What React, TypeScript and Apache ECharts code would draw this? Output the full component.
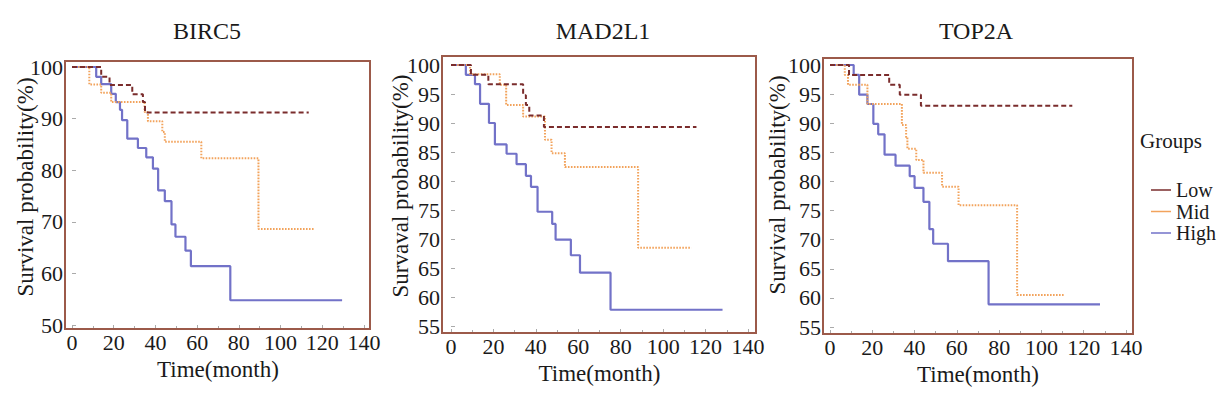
import React, { useEffect, useRef } from "react";
import * as echarts from "echarts";

const panelTitles = ["BIRC5", "MAD2L1", "TOP2A"];
const yAxisNames = ["Survival probability(%)", "Survaval probability(%)", "Survival probability(%)"];
const xAxisName = "Time(month)";
const groupNames = ["Low", "Mid", "High"];
const yMins = [50, 55, 55];
const yIntervals = [10, 5, 5];

// BIRC5
const birc5LowT = [0, 14, 18, 28.9, 34, 35, 113.5];
const birc5LowS = [100, 98.1, 96.5, 94.7, 93.2, 91.2, 91.2];
const birc5MidT = [0, 8.3, 14, 18.8, 34.8, 36.4, 43.3, 44.5, 62, 89.4, 116];
const birc5MidS = [100, 96.6, 95, 93.2, 91.3, 89.5, 87.4, 85.5, 82.3, 68.6, 68.6];
const birc5HighT = [0, 11.6, 14, 18.8, 21, 23, 24, 26.5, 31.6, 35.6, 38.8, 41.3, 44.5, 47.7, 49.6, 54.4, 57, 75.9, 129.5];
const birc5HighS = [100, 98.1, 96.7, 94.8, 93.2, 91.7, 89.7, 86.1, 84.3, 82.5, 80.3, 76.1, 74.0, 69.5, 67.1, 64.4, 61.4, 54.8, 54.8];

// MAD2L1
const mad2l1LowT = [0, 9.4, 17.6, 34, 35.3, 36.9, 43.8, 115.7];
const mad2l1LowS = [100, 98.3, 96.7, 94.8, 93.1, 91.3, 89.3, 89.3];
const mad2l1MidT = [0, 9, 23, 26, 34, 44.3, 47.4, 53.7, 88.2, 113.3];
const mad2l1MidS = [100, 98.4, 96.6, 93.1, 91.1, 87.1, 84.8, 82.4, 68.5, 68.5];
const mad2l1HighT = [0, 7, 11.3, 13.7, 17.9, 20.7, 26.2, 30.9, 35.3, 37.7, 40.8, 47.7, 49.3, 56.5, 60.8, 75.2, 128];
const mad2l1HighS = [100, 98.3, 96.7, 93.3, 90.0, 86.3, 84.7, 82.9, 80.9, 79.0, 74.7, 72.6, 69.9, 67.2, 64.2, 57.8, 57.8];

// TOP2A
const top2aLowT = [0, 9, 28, 33, 43, 114.6];
const top2aLowS = [100, 98.3, 96.6, 94.9, 93.0, 93.0];
const top2aMidT = [0, 7, 8.5, 17.7, 34, 36, 36.6, 40.8, 44.2, 53, 60.8, 88.5, 110.8];
const top2aMidS = [100, 98.3, 96.6, 93.3, 89.7, 87.6, 85.6, 83.7, 81.5, 79.1, 75.9, 60.5, 60.5];
const top2aHighT = [0, 11.2, 13.8, 17.7, 20.5, 22.8, 25.8, 31, 37.7, 40, 44.2, 47, 48.8, 55.8, 75, 127.7];
const top2aHighS = [100, 98.3, 94.9, 93.3, 89.9, 88.1, 84.6, 82.7, 80.9, 78.9, 76.5, 71.8, 69.3, 66.3, 58.9, 58.9];

const panelData = [
  [[birc5LowT, birc5LowS], [birc5MidT, birc5MidS], [birc5HighT, birc5HighS]],
  [[mad2l1LowT, mad2l1LowS], [mad2l1MidT, mad2l1MidS], [mad2l1HighT, mad2l1HighS]],
  [[top2aLowT, top2aLowS], [top2aMidT, top2aMidS], [top2aHighT, top2aHighS]],
];

const FONT = "'Liberation Serif', 'Times New Roman', serif";
const TXT = "#1a1a1a";
const FRAME = "#9c5a4a";
const COLORS = ["#7a2c2c", "#f2a35c", "#7272c8"];
const LINE_TYPES: any[] = [[5, 3], [1.6, 1.4], "solid"];

const grids = [
  { left: 72, top: 67, width: 292, height: 258 },
  { left: 451, top: 65, width: 297, height: 261 },
  { left: 830, top: 65, width: 296, height: 262 },
];
const frames = [
  [65, 61, 305, 268],
  [442, 56, 314, 277],
  [823, 58, 310, 276],
];
const yOffsets = [7, 9, 7];
const xOffsets = [4, 7, 7];
const yNamePos = [
  [25, 187],
  [400, 186],
  [777, 185],
];
const titleX = [202, 598, 971];

export default function App() {
  const ref = useRef<HTMLDivElement>(null);
  useEffect(() => {
    if (!ref.current) return;
    const chart = echarts.init(ref.current, null, { renderer: "svg" });
    const xAxes: any[] = [];
    const yAxes: any[] = [];
    const series: any[] = [];
    const graphics: any[] = [];
    for (let p = 0; p < 3; p++) {
      xAxes.push({
        type: "value",
        gridIndex: p,
        min: 0,
        max: 140,
        interval: 20,
        offset: xOffsets[p],
        name: xAxisName,
        nameLocation: "middle",
        nameGap: 21,
        nameTextStyle: { fontFamily: FONT, fontSize: 23, color: TXT, verticalAlign: "top" },
        axisLine: { show: false },
        axisTick: { show: true, inside: true, length: 4, lineStyle: { color: "#aaa" } },
        minorTick: { show: true, splitNumber: 2, length: 3, lineStyle: { color: "#aaa" } },
        splitLine: { show: false },
        axisLabel: { margin: 2, fontFamily: FONT, fontSize: 22, color: TXT },
      });
      yAxes.push({
        type: "value",
        gridIndex: p,
        min: yMins[p],
        max: 100,
        interval: yIntervals[p],
        offset: yOffsets[p],
        axisLine: { show: false },
        axisTick: { show: true, inside: true, length: 4, lineStyle: { color: "#aaa" } },
        splitLine: { show: false },
        axisLabel: { margin: 2, fontFamily: FONT, fontSize: 22, color: TXT },
      });
      for (let g = 0; g < 3; g++) {
        const [T, S] = panelData[p][g];
        series.push({
          name: groupNames[g],
          type: "line",
          xAxisIndex: p,
          yAxisIndex: p,
          step: "end",
          symbol: "none",
          showSymbol: false,
          color: COLORS[g],
          lineStyle: { color: COLORS[g], width: g === 2 ? 2.2 : 2, type: LINE_TYPES[g] },
          data: T.map((t, i) => [t, S[i]]),
          z: 3 - g + 2,
        });
      }
      const f = frames[p];
      graphics.push({
        type: "rect",
        shape: { x: f[0], y: f[1], width: f[2], height: f[3] },
        style: { fill: "none", stroke: FRAME, lineWidth: 2 },
        z: 10,
        silent: true,
      });
      graphics.push({
        type: "text",
        x: yNamePos[p][0],
        y: yNamePos[p][1],
        rotation: Math.PI / 2,
        style: {
          text: yAxisNames[p],
          fontFamily: FONT,
          fontSize: 23,
          fill: TXT,
          align: "center",
          verticalAlign: "middle",
        },
      });
    }
    graphics.push({
      type: "text",
      left: 1140,
      top: 130,
      style: { text: "Groups", fontFamily: FONT, fontSize: 21, fill: TXT },
    });
    chart.setOption({
      animation: false,
      backgroundColor: "#fff",
      title: panelTitles.map((t, i) => ({
        text: t,
        left: titleX[i],
        top: 14,
        textAlign: "center",
        textStyle: { fontFamily: FONT, fontSize: 24, fontWeight: "normal", color: TXT },
      })),
      grid: grids.map((g) => ({ ...g, containLabel: false })),
      xAxis: xAxes,
      yAxis: yAxes,
      legend: {
        data: groupNames,
        orient: "vertical",
        left: 1146,
        top: 175,
        icon: "rect",
        itemWidth: 20,
        itemHeight: 1.5,
        itemGap: 1.5,
        textStyle: { fontFamily: FONT, fontSize: 20, color: TXT, lineHeight: 20 },
      },
      graphic: graphics,
      series,
    });
    return () => chart.dispose();
  }, []);
  return (
    <div
      ref={ref}
      style={{ position: "fixed", left: 0, top: 0, width: 1232, height: 396 }}
    />
  );
}
